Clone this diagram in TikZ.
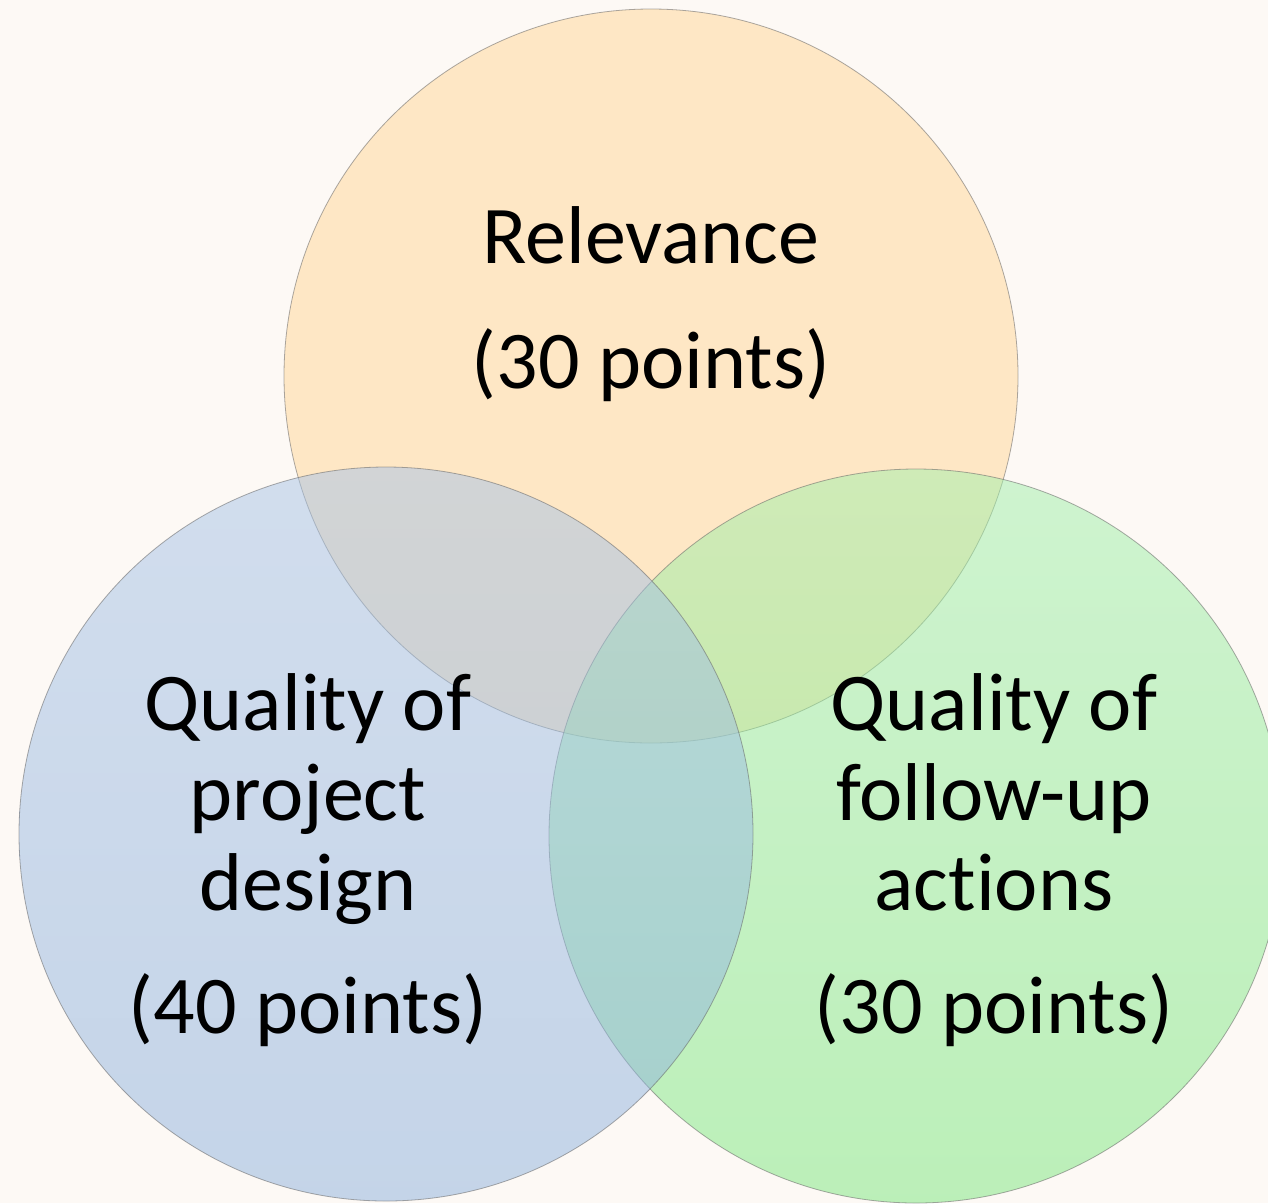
\documentclass[tikz,border=0pt]{standalone}
\usepackage{fontspec}
\setmainfont{Carlito}[Ligatures={NoCommon}]
\definecolor{paper}{RGB}{253,249,245}
\definecolor{relfill}{RGB}{255,215,151}
\definecolor{desigtop}{RGB}{167,195,231}
\definecolor{desigbot}{RGB}{141,177,221}
\definecolor{folltop}{RGB}{161,239,171}
\definecolor{follbot}{RGB}{123,231,125}

\begin{document}
\begin{tikzpicture}[x=1pt, y=-1pt,
    ring/.style={circle, minimum size=734pt, inner sep=0pt, draw=black!60, line width=0.8pt, draw opacity=0.55, fill opacity=0.5},
    label/.style={align=center, anchor=base, text=black, font=\fontsize{82}{90}\selectfont}
  ]
    \useasboundingbox (0,0) rectangle (1268,1203);
    \clip (0,0) rectangle (1268,1203);
    \fill[paper] (0,0) rectangle (1268,1203);
    \node[ring, fill=relfill] (rel) at (651,376) {};
    \node[ring, top color=folltop, bottom color=follbot] (foll) at (916,836) {};
    \node[ring, top color=desigtop, bottom color=desigbot] (desig) at (386,834) {};
    % base anchor sits on the last line
    \node[label] (reltext) at (651,388) {Relevance\\[35pt](30 points)};
    \node[label] (desigtext) at (308,1033) {Quality of\\project\\design\\[33pt](40 points)};
    \node[label] (folltext) at (994,1033) {Quality of\\follow-up\\actions\\[33pt](30 points)};
  \end{tikzpicture}
\end{document}
